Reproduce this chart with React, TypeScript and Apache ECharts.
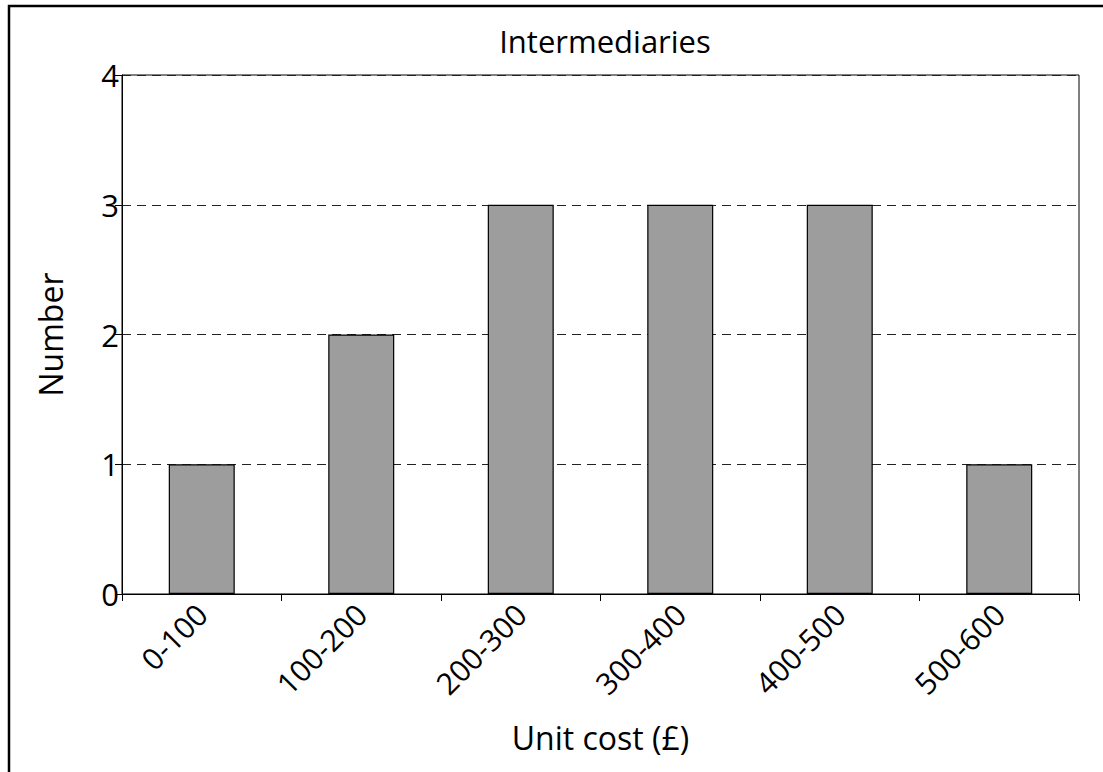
import React, { useEffect, useRef } from "react";
import * as echarts from "echarts";

const categories = ["0-100", "100-200", "200-300", "300-400", "400-500", "500-600"];
const counts = [1, 2, 3, 3, 3, 1];
const yTicks = [0, 1, 2, 3, 4];

const FONT = "'Open Sans', 'Noto Sans', sans-serif";

export default function App() {
  const ref = useRef<HTMLDivElement>(null);
  useEffect(() => {
    document.body.style.margin = "0";
    if (!ref.current) return;
    const chart = echarts.init(ref.current, undefined, { renderer: "svg" });
    chart.setOption({
      animation: false,
      backgroundColor: "#fff",
      textStyle: { fontFamily: FONT },
      title: {
        text: "Intermediaries",
        left: 600,
        top: 20,
        textAlign: "center",
        textStyle: { fontFamily: FONT, fontSize: 31, fontWeight: "normal", color: "#000" },
      },
      graphic: [
        {
          type: "rect",
          shape: { x: 9, y: 6, width: 1300, height: 1000 },
          style: { fill: "none", stroke: "#000", lineWidth: 2.5 },
          silent: true,
        },
      ],
      grid: {
        left: 122,
        top: 75,
        right: 24,
        bottom: 178,
        show: true,
        borderColor: "#000",
        borderWidth: 1,
        backgroundColor: "transparent",
      },
      xAxis: {
        type: "category",
        data: categories,
        boundaryGap: true,
        name: "Unit cost (£)",
        nameLocation: "middle",
        nameGap: 127,
        nameTextStyle: { fontFamily: FONT, fontSize: 32, color: "#000" },
        axisLine: { lineStyle: { color: "#000", width: 1 } },
        axisTick: { show: true, alignWithLabel: false, length: 7, lineStyle: { color: "#000" } },
        axisLabel: {
          rotate: 45,
          margin: 15,
          fontFamily: FONT,
          fontSize: 30,
          color: "#000",
          interval: 0,
        },
        splitLine: { show: false },
      },
      yAxis: {
        type: "value",
        min: yTicks[0],
        max: yTicks[yTicks.length - 1],
        interval: 1,
        name: "Number",
        nameLocation: "middle",
        nameRotate: 90,
        nameGap: 56,
        nameTextStyle: { fontFamily: FONT, fontSize: 32, color: "#000" },
        axisLine: { show: true, lineStyle: { color: "#000", width: 1 } },
        axisTick: { show: true, length: 7, lineStyle: { color: "#000" } },
        axisLabel: { margin: 3, fontFamily: FONT, fontSize: 31, color: "#000" },
        splitLine: { show: true, lineStyle: { color: "#222", type: [9, 6], width: 1 } },
      },
      series: [
        {
          type: "bar",
          data: counts,
          barWidth: 66,
          itemStyle: { color: "#9d9d9d", borderColor: "#000", borderWidth: 1.2 },
        },
      ],
    });
    return () => chart.dispose();
  }, []);
  return <div ref={ref} style={{ width: 1103, height: 772 }} />;
}
